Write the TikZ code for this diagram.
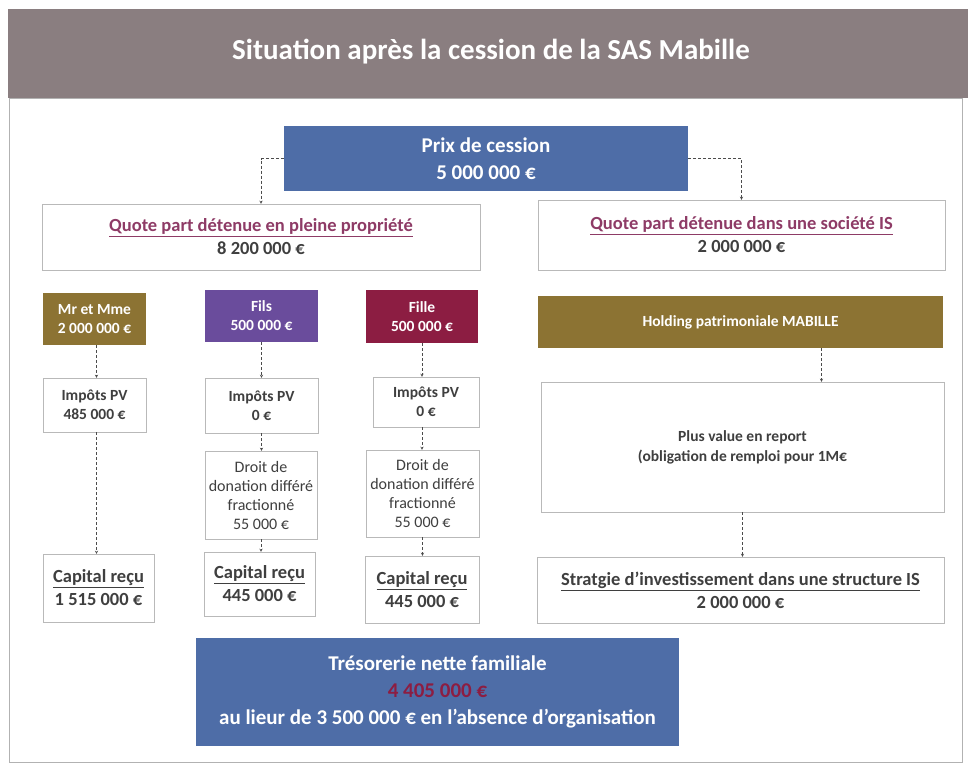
\documentclass[tikz,border=0pt]{standalone}
\usepackage{fontspec}
\setmainfont{Carlito}
\usetikzlibrary{positioning}
\definecolor{bandeau}{HTML}{8A7E80}
\definecolor{bleu}{HTML}{4E6DA7}
\definecolor{olive}{HTML}{8C7333}
\definecolor{violet}{HTML}{6A4C9C}
\definecolor{bordeaux}{HTML}{8C1D42}
\definecolor{lien}{HTML}{8E3B66}
\definecolor{texte}{HTML}{3F3F3F}

\begin{document}
\begin{tikzpicture}[x=1pt,y=-1pt,
  box/.style={draw=gray!55,fill=white,align=center,inner sep=2pt,text=texte,
    font=\bfseries\fontsize{15.5}{19}\selectfont},
  plein/.style={box,draw=none,fill=#1,text=white},
  dim/.style 2 args={minimum width=#1pt,minimum height=#2pt},
  fleche/.style={->,>=stealth,densely dashed,draw=gray!60!black}]
 \useasboundingbox (0,0) rectangle (968,768);
 \fill[white] (0,0) rectangle (968,768);
 \draw[gray!60] (9,98) rectangle (962,762);
 \fill[bandeau] (8,9) rectangle (968,98);
 \node[text=white,font=\bfseries\fontsize{29}{33}\selectfont] (titre) at (491,52)
   {Situation après la cession de la SAS Mabille};

 \node[plein=bleu,dim={404}{65},font=\bfseries\fontsize{21}{27}\selectfont] (prix) at (486,158.5)
   {Prix de cession\\5 000 000 €};
 \node[box,dim={438}{66},font=\bfseries\fontsize{18.5}{23}\selectfont] (quoteL) at (261,237)
   {\textcolor{lien}{\underline{Quote part détenue en pleine propriété}}\\8 200 000 €};
 \node[box,dim={407}{70},font=\bfseries\fontsize{18.5}{23}\selectfont] (quoteR) at (741.5,235)
   {\textcolor{lien}{\underline{Quote part détenue dans une société IS}}\\2 000 000 €};

 \node[plein=olive,dim={103}{52}] (mr) at (94.5,319) {Mr et Mme\\2 000 000 €};
 \node[plein=violet,dim={113}{52}] (fils) at (261.5,316) {Fils\\500 000 €};
 \node[plein=bordeaux,dim={112}{53}] (fille) at (422,316.5) {Fille\\500 000 €};
 \node[plein=olive,dim={405}{52},font=\bfseries\fontsize{15.5}{18}\selectfont] (holding) at (740.5,322)
   {Holding patrimoniale MABILLE};

 \node[box,dim={103}{54}] (impL) at (94.5,405) {Impôts PV\\485 000 €};
 \node[box,dim={113}{55}] (impF) at (261.5,405.5) {Impôts PV\\0 €};
 \node[box,dim={106}{50}] (impG) at (426,402) {Impôts PV\\0 €};

 \node[box,dim={112}{88},font=\fontsize{16}{19}\selectfont] (droitF) at (261,495)
   {Droit de\\donation différé\\fractionné\\55 000 €};
 \node[box,dim={113}{87},font=\fontsize{16}{19}\selectfont] (droitG) at (422.5,493.5)
   {Droit de\\donation différé\\fractionné\\55 000 €};

 \node[box,dim={111}{68},font=\bfseries\fontsize{18.5}{23}\selectfont] (capL) at (98.5,588)
   {\underline{Capital reçu}\\1 515 000 €};
 \node[box,dim={111}{64},font=\bfseries\fontsize{18.5}{23}\selectfont] (capF) at (259.5,584)
   {\underline{Capital reçu}\\445 000 €};
 \node[box,dim={114}{67},font=\bfseries\fontsize{18.5}{23}\selectfont] (capG) at (422,589.5)
   {\underline{Capital reçu}\\445 000 €};

 \node[box,dim={403}{130},font=\bfseries\fontsize{15.5}{20}\selectfont] (plus) at (742.5,447)
   {Plus value en report\\(obligation de remploi pour 1M€};
 \node[box,dim={407}{66},font=\bfseries\fontsize{18.5}{23}\selectfont] (strat) at (740.5,590)
   {\underline{Stratgie d’investissement dans une structure IS}\\2 000 000 €};

 \node[plein=bleu,dim={483}{108},font=\bfseries\fontsize{21}{27}\selectfont] (treso) at (437.5,692)
   {Trésorerie nette familiale\\\textcolor{bordeaux}{4 405 000 €}\\au lieur de 3 500 000 € en l’absence d’organisation};

 \draw[fleche] (prix.west) -| (quoteL.north);
 \draw[fleche] (prix.east) -| (quoteR.north);
 \draw[fleche] ([xshift=2pt]mr.south) -- ([xshift=2pt]mr.south |- impL.north);
 \draw[fleche] ([xshift=2pt]impL.south) -- ([xshift=2pt]impL.south |- capL.north);
 \draw[fleche] (fils.south) -- (fils.south |- impF.north);
 \draw[fleche] (impF.south) -- (impF.south |- droitF.north);
 \draw[fleche] (droitF.south) -- (droitF.south |- capF.north);
 \draw[fleche] (fille.south) -- (fille.south |- impG.north);
 \draw[fleche] (impG.south -| fille.south) -- (fille.south |- droitG.north);
 \draw[fleche] (droitG.south) -- (droitG.south |- capG.north);
 \draw[fleche] ([xshift=81pt]holding.south) -- ([xshift=81pt]holding.south |- plus.north);
 \draw[fleche] (plus.south) -- (plus.south |- strat.north);
\end{tikzpicture}
\end{document}
